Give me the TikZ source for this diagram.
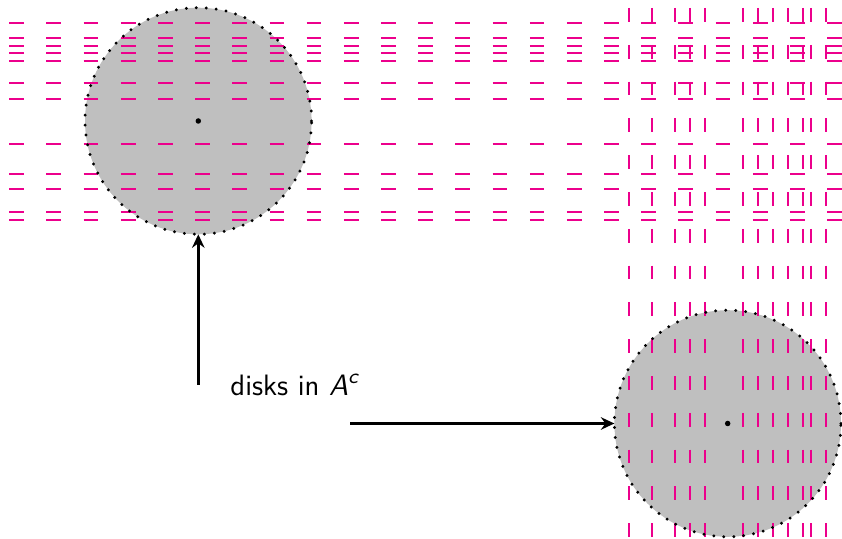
\documentclass[tikz,border=0pt]{standalone}
\usepackage{amsmath}
\usetikzlibrary{arrows.meta}
\definecolor{hatch}{RGB}{236,0,140}
\begin{document}
\begin{tikzpicture}[x=0.4pt,y=-0.4pt,
  disk/.style={circle,fill=black!25,draw=none,inner sep=0pt,outer sep=0pt,minimum size=90.64pt},
  rim/.style={line width=1.3pt,line cap=round,dash pattern=on 0pt off 4pt},
  hline/.style={hatch,line width=0.9pt,dash pattern=on 5.88pt off 8.99pt},
  vline/.style={hatch,line width=0.9pt,dash pattern=on 5.5pt off 9.22pt},
  pointer/.style={line width=1pt,-{Stealth[length=5.4pt,width=5pt,inset=1.8pt]}},
  centre/.style={circle,fill=black,inner sep=0pt,minimum size=2.2pt}]
\useasboundingbox (0,0) rectangle (842,539);
% the two disks (fill only; the rims come after the hatching)
\node[disk] (d1) at (198.3,121) {};
\node[disk] (d2) at (727.7,423.5) {};
% horizontal hatching
\foreach \y in {23,38,45.7,53.3,60.7,83.3,98.7,144,174,189.3,212,219.7}
  \draw[hline] (9.3,\y) -- (842,\y);
% vertical hatching
\foreach \x in {629.3,651.7,674.7,690,705,742.7,758,773,788.3,803.3,811,826.3}
  \draw[vline] (\x,8) -- (\x,539);
% dotted rims and centres
\draw[rim] (d1.center) circle[radius=45.32pt];
\draw[rim] (d2.center) circle[radius=45.32pt];
\node[centre] (c1) at (d1.center) {};
\node[centre] (c2) at (d2.center) {};
% label and pointers
\node[font=\fontsize{11.8}{14}\selectfont\sffamily,anchor=base west,inner sep=0pt] (lbl) at (230,396)
  {disks in $\textsf{\itshape A}^{\textsf{\itshape c}}$};
\coordinate (s1) at (198.3,385);
\coordinate (s2) at (350,423.5);
\draw[pointer] (s1) -- (d1.south);
\draw[pointer] (s2) -- (d2.west);
\end{tikzpicture}
\end{document}
